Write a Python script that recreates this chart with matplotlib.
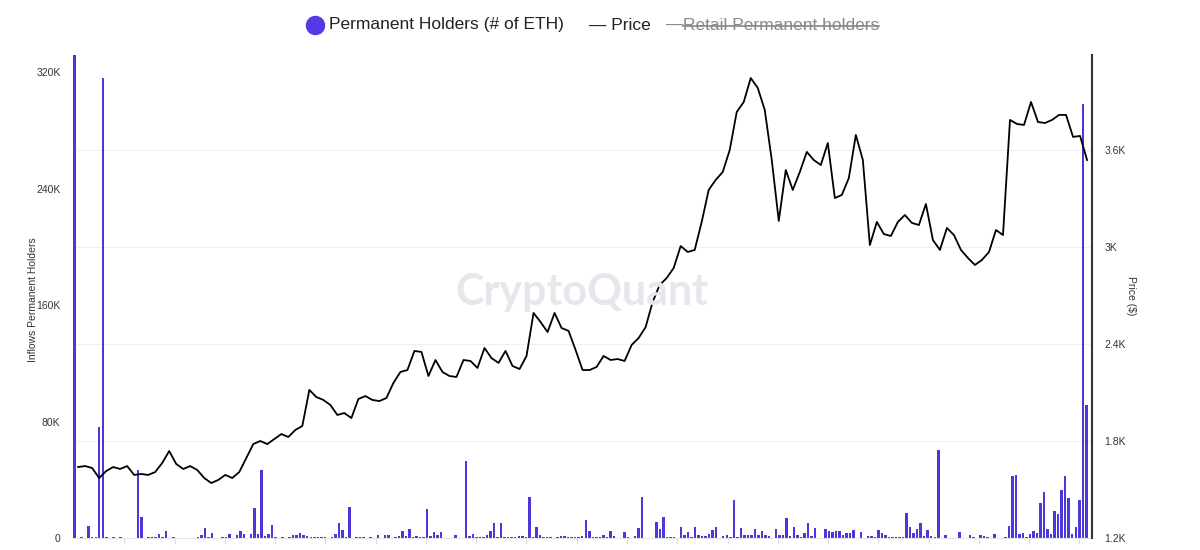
import numpy as np
import matplotlib
matplotlib.use("Agg")
import matplotlib.pyplot as plt
from matplotlib.lines import Line2D

plt.rcParams['font.family'] = ['Liberation Sans', 'DejaVu Sans']

# daily inflows to permanent holder addresses, thousands of ETH
holders_k = [
    335, 0, 0.5, 0, 8.3, 0.5, 0.5, 76, 316, 0.7,
    0, 0.5, 0, 0.5, 0, 0, 0, 0, 46.8, 14.4,
    0, 1, 1, 0.7, 2.8, 1, 4.8, 0, 0.5, 0,
    0, 0, 0, 0.3, 0, 0.7, 2, 6.9, 0.5, 3.4,
    0, 0, 0.5, 1, 2.5, 0, 1.8, 4.8, 2.8, 0,
    2.8, 20.6, 2.8, 46.8, 1.5, 3, 8.9, 0.7, 0, 0.7,
    0, 0.7, 2.3, 2.3, 3.2, 2.3, 1.5, 0.5, 0.5, 0.5,
    0.5, 0.5, 0, 0.5, 2.5, 10.3, 5.5, 0.5, 21.3, 0,
    0.5, 0.5, 0.5, 0, 0.5, 0, 2.3, 0, 2, 2,
    0, 0.8, 1.5, 4.6, 1.5, 6.2, 0.5, 1.4, 0.5, 0.5,
    20, 1.6, 4, 2.3, 4, 0, 0, 0.3, 2.1, 0.3,
    0, 53, 1.6, 2.8, 0.7, 0.7, 0.7, 2.1, 5, 10.3,
    0.5, 10.3, 0.5, 0.5, 0.5, 0.5, 1.6, 1.6, 0.5, 28,
    1, 7.6, 2, 1, 1, 1, 0, 0.7, 1.5, 1.2,
    0.7, 0.7, 0.7, 0.7, 1.2, 12.4, 4.6, 1, 0.5, 0.5,
    2.3, 0.5, 5, 1.6, 0, 0, 3.9, 0.5, 0.3, 1.6,
    6.7, 28, 0, 0.3, 0, 11, 6, 14.4, 0.5, 0.5,
    0.5, 0, 7.8, 2.1, 4.4, 0.5, 7.6, 2.3, 1.4, 1.4,
    2.8, 5.5, 7.8, 0.3, 1.6, 2.3, 0.5, 26, 0.9, 6.7,
    2.3, 2.1, 2.1, 6, 2.3, 4.6, 2.3, 1.4, 0.3, 6,
    2.1, 2.1, 13.8, 1.6, 7.6, 2.3, 0.9, 3.2, 10.3, 1.6,
    6.9, 0.3, 0.3, 6.2, 4.6, 3.9, 4.6, 5, 2.3, 3.2,
    3.2, 5.5, 0.3, 3.9, 0.3, 1.6, 1.1, 0.5, 5.5, 3.2,
    2.1, 0.9, 0.9, 0.9, 0.9, 0.5, 17.2, 7.6, 3.2, 6.2,
    10.3, 1.6, 5.5, 1.6, 0.5, 60.5, 0.3, 2.3, 0.3, 0.3,
    0.3, 3.9, 0.3, 0.3, 2.3, 0.9, 0, 2.3, 1.6, 0.9,
    0, 3, 0, 0, 0.9, 8, 42.7, 43.4, 2.8, 3.7,
    0.7, 2.8, 5, 3.7, 24, 31.6, 6.2, 2.5, 18.6, 16.5,
    33, 42.7, 27.5, 2.5, 7.6, 26, 298, 91.5,
]

# ETH price ($), read every second day
price = [
    1639, 1645, 1633, 1571, 1614, 1639, 1627, 1645, 1590, 1596,
    1590, 1608, 1664, 1738, 1658, 1627, 1645, 1621, 1571, 1540,
    1559, 1590, 1571, 1608, 1695, 1781, 1800, 1781, 1812, 1843,
    1825, 1868, 1893, 2116, 2072, 2054, 2023, 1961, 1973, 1942,
    2060, 2078, 2054, 2047, 2066, 2159, 2227, 2239, 2357, 2351,
    2202, 2301, 2227, 2202, 2196, 2301, 2295, 2252, 2375, 2313,
    2283, 2357, 2264, 2245, 2326, 2592, 2536, 2474, 2592, 2499,
    2481, 2363, 2239, 2239, 2258, 2326, 2301, 2307, 2295, 2394,
    2437, 2505, 2660, 2765, 2808, 2870, 3006, 2969, 2982, 3155,
    3353, 3415, 3464, 3600, 3835, 3897, 4045, 3984, 3848, 3538,
    3161, 3476, 3353, 3464, 3588, 3538, 3507, 3643, 3303, 3322,
    3427, 3693, 3538, 3012, 3155, 3080, 3068, 3155, 3198, 3149,
    3136, 3266, 3043, 2982, 3118, 3074, 2982, 2932, 2889, 2920,
    2969, 3105, 3074, 3786, 3761, 3755, 3897, 3773, 3767, 3786,
    3817, 3817, 3681, 3687, 3538,
]

left_ticks = [0, 80, 160, 240, 320]
left_labels = ['0', '80K', '160K', '240K', '320K']
right_ticks = [1200, 1800, 2400, 3000, 3600]
right_labels = ['1.2K', '1.8K', '2.4K', '3K', '3.6K']

bar_color = '#4a38d8'
text_color = '#333333'

days = np.arange(len(holders_k))
price_days = np.linspace(1, len(holders_k) - 0.8, len(price))

left_max = 332
price_min, price_max = 1200, 1200 + 483 * 2400 / 388

fig = plt.figure(figsize=(12, 5.5), dpi=100)
ax = fig.add_axes([73 / 1200, 12 / 550, 1019 / 1200, 483 / 550])

# horizontal grid follows the price axis, kept under the bars
for p in right_ticks[1:]:
    ax.axhline((p - price_min) / (price_max - price_min) * left_max,
               color='#f0f0f0', lw=0.8, zorder=0)

ax.bar(days, holders_k, width=0.7, color=bar_color, linewidth=0, zorder=2)
ax.set_xlim(-0.45, len(holders_k) + 0.6)
ax.set_ylim(0, left_max)
ax.set_yticks(left_ticks)
ax.set_yticklabels(left_labels)
ax.tick_params(axis='y', length=0, pad=9, labelsize=7.5, labelcolor=text_color)
ax.set_xticks(14.1 + 14.26 * np.arange(20))
ax.tick_params(axis='x', length=4, color='#dddddd', labelbottom=False)
for s in ['top', 'left', 'right']:
    ax.spines[s].set_visible(False)
ax.spines['bottom'].set_color('#e6e6e6')

ax2 = ax.twinx()
ax2.plot(price_days, price, color='black', lw=1.3, zorder=3)
ax2.set_ylim(price_min, price_max)
ax2.set_yticks(right_ticks)
ax2.set_yticklabels(right_labels)
ax2.tick_params(axis='y', length=0, pad=9, labelsize=7.5, labelcolor=text_color)
for s in ['top', 'left', 'bottom']:
    ax2.spines[s].set_visible(False)
ax2.spines['right'].set_color('#333333')
ax2.spines['right'].set_linewidth(1.5)

# watermark
fig.text(582 / 1200, 1 - 292 / 550, 'CryptoQuant', family='Lato', fontweight='bold',
         fontsize=31, color='#e6e7ed', ha='center', va='center', zorder=0)

# axis titles
fig.text(33 / 1200, 1 - 300 / 550, 'Inflows Permanent Holders', rotation=90,
         fontsize=7.5, color=text_color, ha='center', va='center')
fig.text(1131 / 1200, 1 - 296 / 550, 'Price ($)', rotation=270,
         fontsize=7.5, color=text_color, ha='center', va='center')

# legend drawn by hand
ly = 1 - 25 / 550
fig.add_artist(Line2D([315 / 1200], [ly], marker='o', markersize=13,
                      color='#5538e6', transform=fig.transFigure))
fig.text(329 / 1200, ly, 'Permanent Holders (# of ETH)', fontsize=12.5,
         color='#222222', va='center')
fig.text(589 / 1200, ly, '— Price', fontsize=12.5, color='#222222', va='center')
fig.text(666 / 1200, ly, '—', fontsize=12.5, color='#888888', va='center')
retail = fig.text(683 / 1200, ly, 'Retail Permanent holders', fontsize=12.5,
                  color='#888888', va='center')

renderer = fig.canvas.get_renderer()
bb = retail.get_window_extent(renderer).transformed(fig.transFigure.inverted())
ymid = bb.y0 + bb.height * 0.45
fig.add_artist(Line2D([bb.x0, bb.x1], [ymid, ymid], color='#888888', lw=1.2,
                      transform=fig.transFigure))

fig.savefig('out.png', dpi=100)
